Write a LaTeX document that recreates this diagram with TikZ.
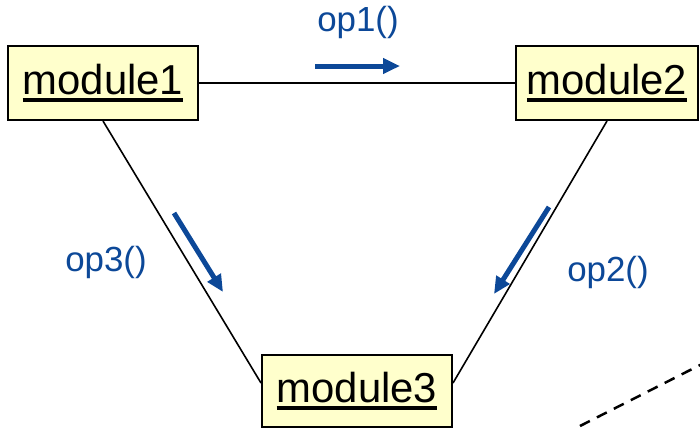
\documentclass[tikz,border=0pt]{standalone}
\usepackage{fontspec}
\setmainfont{Liberation Sans}
\usetikzlibrary{arrows.meta,calc}
\definecolor{boxfill}{RGB}{255,255,204}
\definecolor{opblue}{RGB}{12,72,152}
\newcommand\myul[1]{\setbox0\hbox{#1}\leavevmode\rlap{\lower3.2bp\hbox{\vrule width\wd0 height 0pt depth 3.8bp}}\box0}
\tikzset{
  module/.style={draw=black, line width=2bp, fill=boxfill, inner sep=0pt,
    minimum height=74bp, font=\fontsize{42}{48}\selectfont},
  link/.style={draw=black, line width=1.6bp},
  oparrow/.style={draw=opblue, line width=5bp, -{Triangle[length=17bp,width=15bp]}},
  oplabel/.style={text=opblue, font=\fontsize{35}{40}\selectfont, inner sep=0pt},
}
\begin{document}
\begin{tikzpicture}[x=1bp,y=-1bp]
\useasboundingbox (0,0) rectangle (700,428);
\node[module, minimum width=190bp] (m1) at (103,83) {\myul{module1}};
\node[module, minimum width=182bp] (m2) at (607,83) {\myul{module2}};
\node[module, minimum width=190bp, minimum height=72bp] (m3) at (357,391) {\myul{module3}};
\draw[link] (m1.east) -- (m2.west);
\draw[link] (m1.south) -- ($(m3.west)+(0,-8)$);
\draw[link] (m2.south) -- ($(m3.east)+(0,-8)$);
\coordinate (a1s) at (315,66); \coordinate (a1e) at (400,66);
\coordinate (a3s) at (174,213); \coordinate (a3e) at (223,292);
\coordinate (a2s) at (549,207); \coordinate (a2e) at (494,294);
\draw[oparrow] (a1s) -- (a1e);
\draw[oparrow] (a3s) -- (a3e);
\draw[oparrow] (a2s) -- (a2e);
\node[oplabel] (l1) at (358,22) {op1()};
\node[oplabel] (l3) at (106,262) {op3()};
\node[oplabel] (l2) at (608,272) {op2()};
\coordinate (d1) at (580,426); \coordinate (d2) at (702,364);
\draw[black, line width=2.5bp, dash pattern=on 11bp off 8bp] (d1) -- (d2);
\end{tikzpicture}
\end{document}
